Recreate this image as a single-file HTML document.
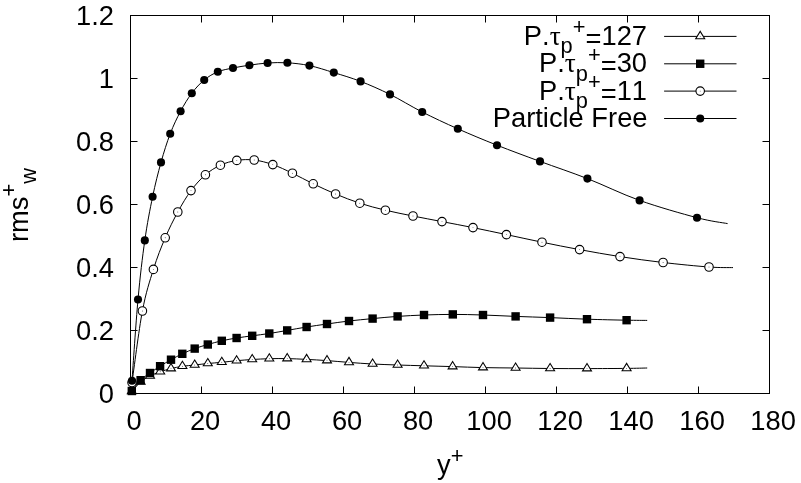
<!DOCTYPE html>
<html lang="en"><head><meta charset="utf-8"><title>rms w+ vs y+</title>
<style>html,body{margin:0;padding:0;background:#fff;}body{width:801px;height:483px;overflow:hidden;}text{font-kerning:none;font-feature-settings:'kern' 0,'liga' 0;}</style>
</head><body>
<svg width="801" height="483" viewBox="0 0 801 483" style="display:block">
<rect x="0" y="0" width="801" height="483" fill="#fff"/>
<g fill="none" stroke="#000" stroke-width="1">
<rect x="130.5" y="15.5" width="639.0" height="378.0"/>
<path d="M201.50,393.50 v-7.0 M201.50,15.50 v7.0 M272.50,393.50 v-7.0 M272.50,15.50 v7.0 M343.50,393.50 v-7.0 M343.50,15.50 v7.0 M414.50,393.50 v-7.0 M414.50,15.50 v7.0 M485.50,393.50 v-7.0 M485.50,15.50 v7.0 M556.50,393.50 v-7.0 M556.50,15.50 v7.0 M627.50,393.50 v-7.0 M627.50,15.50 v7.0 M698.50,393.50 v-7.0 M698.50,15.50 v7.0 M130.50,330.50 h7.0 M769.50,330.50 h-7.0 M130.50,267.50 h7.0 M769.50,267.50 h-7.0 M130.50,204.50 h7.0 M769.50,204.50 h-7.0 M130.50,141.50 h7.0 M769.50,141.50 h-7.0 M130.50,78.50 h7.0 M769.50,78.50 h-7.0 "/>
</g>
<g font-family="'Liberation Sans', Arial, Helvetica, sans-serif" font-size="27.3" fill="#000">
<text class="yt" x="114" y="402.80" text-anchor="end">0</text>
<text class="yt" x="114" y="339.80" text-anchor="end">0.2</text>
<text class="yt" x="114" y="276.80" text-anchor="end">0.4</text>
<text class="yt" x="114" y="213.80" text-anchor="end">0.6</text>
<text class="yt" x="114" y="150.80" text-anchor="end">0.8</text>
<text class="yt" x="114" y="87.80" text-anchor="end">1</text>
<text class="yt" x="114" y="24.80" text-anchor="end">1.2</text>
<text class="xt" x="134.10" y="430.4" text-anchor="middle">0</text>
<text class="xt" x="205.10" y="430.4" text-anchor="middle">20</text>
<text class="xt" x="276.10" y="430.4" text-anchor="middle">40</text>
<text class="xt" x="347.10" y="430.4" text-anchor="middle">60</text>
<text class="xt" x="418.10" y="430.4" text-anchor="middle">80</text>
<text class="xt" x="489.10" y="430.4" text-anchor="middle">100</text>
<text class="xt" x="560.10" y="430.4" text-anchor="middle">120</text>
<text class="xt" x="631.10" y="430.4" text-anchor="middle">140</text>
<text class="xt" x="702.10" y="430.4" text-anchor="middle">160</text>
<text class="xt" x="773.10" y="430.4" text-anchor="middle">180</text>
<text id="xl" x="437" y="474">y<tspan font-size="21.84" dy="-11">+</tspan></text>
<g transform="translate(28,242) rotate(-90)"><text id="yl" x="0" y="0">rms<tspan font-size="21.84" dy="-12">+</tspan><tspan font-size="21.84" dy="19.9">w</tspan></text></g>
<text class="lg" id="lg1" x="647" y="45.10" text-anchor="end">P.<tspan font-family="'Liberation Serif', 'DejaVu Serif', serif">τ</tspan><tspan font-size="21.84" dy="8.3">p</tspan><tspan font-size="21.84" dy="-19.2">+</tspan><tspan dy="13.6">=</tspan><tspan dy="-2.7">127</tspan></text>
<text class="lg" id="lg2" x="647" y="72.45" text-anchor="end">P.<tspan font-family="'Liberation Serif', 'DejaVu Serif', serif">τ</tspan><tspan font-size="21.84" dy="8.3">p</tspan><tspan font-size="21.84" dy="-19.2">+</tspan><tspan dy="13.6">=</tspan><tspan dy="-2.7">30</tspan></text>
<text class="lg" id="lg3" x="647" y="99.80" text-anchor="end">P.<tspan font-family="'Liberation Serif', 'DejaVu Serif', serif">τ</tspan><tspan font-size="21.84" dy="8.3">p</tspan><tspan font-size="21.84" dy="-19.2">+</tspan><tspan dy="13.6">=</tspan><tspan dy="-2.7">11</tspan></text>
<text class="lg" id="lg4" x="647.5" y="127.15" text-anchor="end">Particle Free</text>
</g>
<g><path d="M131.80,391.50 C133.27,389.92 137.57,384.58 140.60,382.00 C143.63,379.42 146.73,377.70 150.00,376.00 C153.27,374.30 156.70,373.03 160.20,371.80 C163.70,370.57 167.30,369.52 171.00,368.60 C174.70,367.68 178.45,366.90 182.40,366.30 C186.35,365.70 190.47,365.47 194.70,365.00 C198.93,364.53 203.28,363.95 207.80,363.50 C212.32,363.05 217.00,362.77 221.80,362.30 C226.60,361.83 231.53,361.17 236.60,360.70 C241.67,360.23 246.75,359.83 252.20,359.50 C257.65,359.17 263.47,358.85 269.30,358.70 C275.13,358.55 280.98,358.48 287.20,358.60 C293.42,358.72 299.97,359.07 306.60,359.40 C313.23,359.73 319.93,360.10 327.00,360.60 C334.07,361.10 341.40,361.83 349.00,362.40 C356.60,362.97 364.50,363.57 372.60,364.00 C380.70,364.43 389.03,364.70 397.60,365.00 C406.17,365.30 414.83,365.53 424.00,365.80 C433.17,366.07 442.77,366.30 452.60,366.60 C462.43,366.90 472.50,367.37 483.00,367.60 C493.50,367.83 504.42,367.85 515.60,368.00 C526.78,368.15 538.20,368.40 550.10,368.50 C562.00,368.60 574.25,368.62 587.00,368.60 C599.75,368.58 616.57,368.50 626.60,368.40 C636.63,368.30 643.77,368.07 647.20,368.00" fill="none" stroke="#000" stroke-width="1"/><path d="M664.1,36.4 H736.5" fill="none" stroke="#000" stroke-width="1"/><path d="M131.80,386.46 L127.30,393.75 L136.30,393.75 Z" fill="#fff" stroke="#000" stroke-width="1.05"/><circle cx="131.80" cy="391.50" r="0.45" fill="#000"/><path d="M140.60,376.96 L136.10,384.25 L145.10,384.25 Z" fill="#fff" stroke="#000" stroke-width="1.05"/><circle cx="140.60" cy="382.00" r="0.45" fill="#000"/><path d="M150.00,370.96 L145.50,378.25 L154.50,378.25 Z" fill="#fff" stroke="#000" stroke-width="1.05"/><circle cx="150.00" cy="376.00" r="0.45" fill="#000"/><path d="M160.20,366.76 L155.70,374.05 L164.70,374.05 Z" fill="#fff" stroke="#000" stroke-width="1.05"/><circle cx="160.20" cy="371.80" r="0.45" fill="#000"/><path d="M171.00,363.56 L166.50,370.85 L175.50,370.85 Z" fill="#fff" stroke="#000" stroke-width="1.05"/><circle cx="171.00" cy="368.60" r="0.45" fill="#000"/><path d="M182.40,361.26 L177.90,368.55 L186.90,368.55 Z" fill="#fff" stroke="#000" stroke-width="1.05"/><circle cx="182.40" cy="366.30" r="0.45" fill="#000"/><path d="M194.70,359.96 L190.20,367.25 L199.20,367.25 Z" fill="#fff" stroke="#000" stroke-width="1.05"/><circle cx="194.70" cy="365.00" r="0.45" fill="#000"/><path d="M207.80,358.46 L203.30,365.75 L212.30,365.75 Z" fill="#fff" stroke="#000" stroke-width="1.05"/><circle cx="207.80" cy="363.50" r="0.45" fill="#000"/><path d="M221.80,357.26 L217.30,364.55 L226.30,364.55 Z" fill="#fff" stroke="#000" stroke-width="1.05"/><circle cx="221.80" cy="362.30" r="0.45" fill="#000"/><path d="M236.60,355.66 L232.10,362.95 L241.10,362.95 Z" fill="#fff" stroke="#000" stroke-width="1.05"/><circle cx="236.60" cy="360.70" r="0.45" fill="#000"/><path d="M252.20,354.46 L247.70,361.75 L256.70,361.75 Z" fill="#fff" stroke="#000" stroke-width="1.05"/><circle cx="252.20" cy="359.50" r="0.45" fill="#000"/><path d="M269.30,353.66 L264.80,360.95 L273.80,360.95 Z" fill="#fff" stroke="#000" stroke-width="1.05"/><circle cx="269.30" cy="358.70" r="0.45" fill="#000"/><path d="M287.20,353.56 L282.70,360.85 L291.70,360.85 Z" fill="#fff" stroke="#000" stroke-width="1.05"/><circle cx="287.20" cy="358.60" r="0.45" fill="#000"/><path d="M306.60,354.36 L302.10,361.65 L311.10,361.65 Z" fill="#fff" stroke="#000" stroke-width="1.05"/><circle cx="306.60" cy="359.40" r="0.45" fill="#000"/><path d="M327.00,355.56 L322.50,362.85 L331.50,362.85 Z" fill="#fff" stroke="#000" stroke-width="1.05"/><circle cx="327.00" cy="360.60" r="0.45" fill="#000"/><path d="M349.00,357.36 L344.50,364.65 L353.50,364.65 Z" fill="#fff" stroke="#000" stroke-width="1.05"/><circle cx="349.00" cy="362.40" r="0.45" fill="#000"/><path d="M372.60,358.96 L368.10,366.25 L377.10,366.25 Z" fill="#fff" stroke="#000" stroke-width="1.05"/><circle cx="372.60" cy="364.00" r="0.45" fill="#000"/><path d="M397.60,359.96 L393.10,367.25 L402.10,367.25 Z" fill="#fff" stroke="#000" stroke-width="1.05"/><circle cx="397.60" cy="365.00" r="0.45" fill="#000"/><path d="M424.00,360.76 L419.50,368.05 L428.50,368.05 Z" fill="#fff" stroke="#000" stroke-width="1.05"/><circle cx="424.00" cy="365.80" r="0.45" fill="#000"/><path d="M452.60,361.56 L448.10,368.85 L457.10,368.85 Z" fill="#fff" stroke="#000" stroke-width="1.05"/><circle cx="452.60" cy="366.60" r="0.45" fill="#000"/><path d="M483.00,362.56 L478.50,369.85 L487.50,369.85 Z" fill="#fff" stroke="#000" stroke-width="1.05"/><circle cx="483.00" cy="367.60" r="0.45" fill="#000"/><path d="M515.60,362.96 L511.10,370.25 L520.10,370.25 Z" fill="#fff" stroke="#000" stroke-width="1.05"/><circle cx="515.60" cy="368.00" r="0.45" fill="#000"/><path d="M550.10,363.46 L545.60,370.75 L554.60,370.75 Z" fill="#fff" stroke="#000" stroke-width="1.05"/><circle cx="550.10" cy="368.50" r="0.45" fill="#000"/><path d="M587.00,363.56 L582.50,370.85 L591.50,370.85 Z" fill="#fff" stroke="#000" stroke-width="1.05"/><circle cx="587.00" cy="368.60" r="0.45" fill="#000"/><path d="M626.60,363.36 L622.10,370.65 L631.10,370.65 Z" fill="#fff" stroke="#000" stroke-width="1.05"/><circle cx="626.60" cy="368.40" r="0.45" fill="#000"/><path d="M700.20,31.36 L695.70,38.65 L704.70,38.65 Z" fill="#fff" stroke="#000" stroke-width="1.05"/><circle cx="700.20" cy="36.40" r="0.45" fill="#000"/></g>
<g><path d="M131.80,391.00 C133.27,389.20 137.57,383.20 140.60,380.20 C143.63,377.20 146.75,375.33 150.00,373.00 C153.25,370.67 156.60,368.42 160.10,366.20 C163.60,363.98 167.30,361.77 171.00,359.70 C174.70,357.63 178.35,355.65 182.30,353.80 C186.25,351.95 190.45,350.15 194.70,348.60 C198.95,347.05 203.28,345.80 207.80,344.50 C212.32,343.20 217.00,341.88 221.80,340.80 C226.60,339.72 231.53,338.83 236.60,338.00 C241.67,337.17 246.75,336.55 252.20,335.80 C257.65,335.05 263.47,334.40 269.30,333.50 C275.13,332.60 280.98,331.48 287.20,330.40 C293.42,329.32 299.97,328.07 306.60,327.00 C313.23,325.93 319.93,325.00 327.00,324.00 C334.07,323.00 341.40,321.90 349.00,321.00 C356.60,320.10 364.50,319.37 372.60,318.60 C380.70,317.83 389.03,317.00 397.60,316.40 C406.17,315.80 414.80,315.33 424.00,315.00 C433.20,314.67 442.97,314.40 452.80,314.40 C462.63,314.40 472.53,314.67 483.00,315.00 C493.47,315.33 504.42,315.97 515.60,316.40 C526.78,316.83 538.20,317.13 550.10,317.60 C562.00,318.07 574.25,318.77 587.00,319.20 C599.75,319.63 616.57,320.00 626.60,320.20 C636.63,320.40 643.77,320.37 647.20,320.40" fill="none" stroke="#000" stroke-width="1"/><path d="M664.1,63.8 H736.5" fill="none" stroke="#000" stroke-width="1"/><rect x="127.60" y="386.80" width="8.40" height="8.40" fill="#000"/><rect x="136.40" y="376.00" width="8.40" height="8.40" fill="#000"/><rect x="145.80" y="368.80" width="8.40" height="8.40" fill="#000"/><rect x="155.90" y="362.00" width="8.40" height="8.40" fill="#000"/><rect x="166.80" y="355.50" width="8.40" height="8.40" fill="#000"/><rect x="178.10" y="349.60" width="8.40" height="8.40" fill="#000"/><rect x="190.50" y="344.40" width="8.40" height="8.40" fill="#000"/><rect x="203.60" y="340.30" width="8.40" height="8.40" fill="#000"/><rect x="217.60" y="336.60" width="8.40" height="8.40" fill="#000"/><rect x="232.40" y="333.80" width="8.40" height="8.40" fill="#000"/><rect x="248.00" y="331.60" width="8.40" height="8.40" fill="#000"/><rect x="265.10" y="329.30" width="8.40" height="8.40" fill="#000"/><rect x="283.00" y="326.20" width="8.40" height="8.40" fill="#000"/><rect x="302.40" y="322.80" width="8.40" height="8.40" fill="#000"/><rect x="322.80" y="319.80" width="8.40" height="8.40" fill="#000"/><rect x="344.80" y="316.80" width="8.40" height="8.40" fill="#000"/><rect x="368.40" y="314.40" width="8.40" height="8.40" fill="#000"/><rect x="393.40" y="312.20" width="8.40" height="8.40" fill="#000"/><rect x="419.80" y="310.80" width="8.40" height="8.40" fill="#000"/><rect x="448.60" y="310.20" width="8.40" height="8.40" fill="#000"/><rect x="478.80" y="310.80" width="8.40" height="8.40" fill="#000"/><rect x="511.40" y="312.20" width="8.40" height="8.40" fill="#000"/><rect x="545.90" y="313.40" width="8.40" height="8.40" fill="#000"/><rect x="582.80" y="315.00" width="8.40" height="8.40" fill="#000"/><rect x="622.40" y="316.00" width="8.40" height="8.40" fill="#000"/><rect x="696.00" y="59.55" width="8.40" height="8.40" fill="#000"/></g>
<g><path d="M132.00,382.60 C133.73,370.67 138.83,329.87 142.40,311.00 C145.97,292.13 149.60,281.60 153.40,269.40 C157.20,257.20 161.13,247.37 165.20,237.80 C169.27,228.23 173.50,219.87 177.80,212.00 C182.10,204.13 186.40,196.80 191.00,190.60 C195.60,184.40 200.50,179.03 205.40,174.80 C210.30,170.57 215.17,167.60 220.40,165.20 C225.63,162.80 231.17,161.27 236.80,160.40 C242.43,159.53 248.20,159.30 254.20,160.00 C260.20,160.70 266.43,162.40 272.80,164.60 C279.17,166.80 285.67,170.00 292.40,173.20 C299.13,176.40 306.00,180.33 313.20,183.80 C320.40,187.27 327.83,190.77 335.60,194.00 C343.37,197.23 351.50,200.50 359.80,203.20 C368.10,205.90 376.53,208.07 385.40,210.20 C394.27,212.33 403.57,214.10 413.00,216.00 C422.43,217.90 432.00,219.67 442.00,221.60 C452.00,223.53 462.27,225.43 473.00,227.60 C483.73,229.77 494.90,232.17 506.40,234.60 C517.90,237.03 529.80,239.70 542.00,242.20 C554.20,244.70 566.60,247.20 579.60,249.60 C592.60,252.00 606.08,254.45 620.00,256.60 C633.92,258.75 648.27,260.77 663.10,262.50 C677.93,264.23 697.35,266.15 709.00,267.00 C720.65,267.85 729.00,267.50 733.00,267.60" fill="none" stroke="#000" stroke-width="1"/><path d="M664.1,91.1 H736.5" fill="none" stroke="#000" stroke-width="1"/><circle cx="132.00" cy="382.60" r="4.25" fill="#fff" stroke="#000" stroke-width="1.1"/><circle cx="132.00" cy="382.60" r="0.45" fill="#000"/><circle cx="142.40" cy="311.00" r="4.25" fill="#fff" stroke="#000" stroke-width="1.1"/><circle cx="142.40" cy="311.00" r="0.45" fill="#000"/><circle cx="153.40" cy="269.40" r="4.25" fill="#fff" stroke="#000" stroke-width="1.1"/><circle cx="153.40" cy="269.40" r="0.45" fill="#000"/><circle cx="165.20" cy="237.80" r="4.25" fill="#fff" stroke="#000" stroke-width="1.1"/><circle cx="165.20" cy="237.80" r="0.45" fill="#000"/><circle cx="177.80" cy="212.00" r="4.25" fill="#fff" stroke="#000" stroke-width="1.1"/><circle cx="177.80" cy="212.00" r="0.45" fill="#000"/><circle cx="191.00" cy="190.60" r="4.25" fill="#fff" stroke="#000" stroke-width="1.1"/><circle cx="191.00" cy="190.60" r="0.45" fill="#000"/><circle cx="205.40" cy="174.80" r="4.25" fill="#fff" stroke="#000" stroke-width="1.1"/><circle cx="205.40" cy="174.80" r="0.45" fill="#000"/><circle cx="220.40" cy="165.20" r="4.25" fill="#fff" stroke="#000" stroke-width="1.1"/><circle cx="220.40" cy="165.20" r="0.45" fill="#000"/><circle cx="236.80" cy="160.40" r="4.25" fill="#fff" stroke="#000" stroke-width="1.1"/><circle cx="236.80" cy="160.40" r="0.45" fill="#000"/><circle cx="254.20" cy="160.00" r="4.25" fill="#fff" stroke="#000" stroke-width="1.1"/><circle cx="254.20" cy="160.00" r="0.45" fill="#000"/><circle cx="272.80" cy="164.60" r="4.25" fill="#fff" stroke="#000" stroke-width="1.1"/><circle cx="272.80" cy="164.60" r="0.45" fill="#000"/><circle cx="292.40" cy="173.20" r="4.25" fill="#fff" stroke="#000" stroke-width="1.1"/><circle cx="292.40" cy="173.20" r="0.45" fill="#000"/><circle cx="313.20" cy="183.80" r="4.25" fill="#fff" stroke="#000" stroke-width="1.1"/><circle cx="313.20" cy="183.80" r="0.45" fill="#000"/><circle cx="335.60" cy="194.00" r="4.25" fill="#fff" stroke="#000" stroke-width="1.1"/><circle cx="335.60" cy="194.00" r="0.45" fill="#000"/><circle cx="359.80" cy="203.20" r="4.25" fill="#fff" stroke="#000" stroke-width="1.1"/><circle cx="359.80" cy="203.20" r="0.45" fill="#000"/><circle cx="385.40" cy="210.20" r="4.25" fill="#fff" stroke="#000" stroke-width="1.1"/><circle cx="385.40" cy="210.20" r="0.45" fill="#000"/><circle cx="413.00" cy="216.00" r="4.25" fill="#fff" stroke="#000" stroke-width="1.1"/><circle cx="413.00" cy="216.00" r="0.45" fill="#000"/><circle cx="442.00" cy="221.60" r="4.25" fill="#fff" stroke="#000" stroke-width="1.1"/><circle cx="442.00" cy="221.60" r="0.45" fill="#000"/><circle cx="473.00" cy="227.60" r="4.25" fill="#fff" stroke="#000" stroke-width="1.1"/><circle cx="473.00" cy="227.60" r="0.45" fill="#000"/><circle cx="506.40" cy="234.60" r="4.25" fill="#fff" stroke="#000" stroke-width="1.1"/><circle cx="506.40" cy="234.60" r="0.45" fill="#000"/><circle cx="542.00" cy="242.20" r="4.25" fill="#fff" stroke="#000" stroke-width="1.1"/><circle cx="542.00" cy="242.20" r="0.45" fill="#000"/><circle cx="579.60" cy="249.60" r="4.25" fill="#fff" stroke="#000" stroke-width="1.1"/><circle cx="579.60" cy="249.60" r="0.45" fill="#000"/><circle cx="620.00" cy="256.60" r="4.25" fill="#fff" stroke="#000" stroke-width="1.1"/><circle cx="620.00" cy="256.60" r="0.45" fill="#000"/><circle cx="663.10" cy="262.50" r="4.25" fill="#fff" stroke="#000" stroke-width="1.1"/><circle cx="663.10" cy="262.50" r="0.45" fill="#000"/><circle cx="709.00" cy="267.00" r="4.25" fill="#fff" stroke="#000" stroke-width="1.1"/><circle cx="709.00" cy="267.00" r="0.45" fill="#000"/><circle cx="700.20" cy="91.10" r="4.25" fill="#fff" stroke="#000" stroke-width="1.1"/><circle cx="700.20" cy="91.10" r="0.45" fill="#000"/></g>
<g><path d="M132.00,380.70 C133.00,367.17 135.87,322.88 138.00,299.50 C140.13,276.12 142.37,257.52 144.80,240.40 C147.23,223.28 149.90,209.80 152.60,196.80 C155.30,183.80 158.07,172.90 161.00,162.40 C163.93,151.90 166.93,142.33 170.20,133.80 C173.47,125.27 177.00,117.97 180.60,111.20 C184.20,104.43 187.87,98.40 191.80,93.20 C195.73,88.00 199.87,83.57 204.20,80.00 C208.53,76.43 213.00,73.80 217.80,71.80 C222.60,69.80 227.73,69.10 233.00,68.00 C238.27,66.90 243.63,66.03 249.40,65.20 C255.17,64.37 261.27,63.40 267.60,63.00 C273.93,62.60 280.43,62.37 287.40,62.80 C294.37,63.23 301.67,63.97 309.40,65.60 C317.13,67.23 325.27,69.97 333.80,72.60 C342.33,75.23 351.23,77.77 360.60,81.40 C369.97,85.03 379.73,89.30 390.00,94.40 C400.27,99.50 410.90,106.27 422.20,112.00 C433.50,117.73 445.33,123.27 457.80,128.80 C470.27,134.33 483.30,139.77 497.00,145.20 C510.70,150.63 524.93,155.83 540.00,161.40 C555.07,166.97 570.80,172.10 587.40,178.60 C604.00,185.10 621.33,193.88 639.60,200.40 C657.87,206.92 682.33,213.83 697.00,217.70 C711.67,221.57 722.50,222.62 727.60,223.60" fill="none" stroke="#000" stroke-width="1"/><path d="M664.1,118.5 H736.5" fill="none" stroke="#000" stroke-width="1"/><circle cx="132.00" cy="380.70" r="4.05" fill="#000"/><circle cx="138.00" cy="299.50" r="4.05" fill="#000"/><circle cx="144.80" cy="240.40" r="4.05" fill="#000"/><circle cx="152.60" cy="196.80" r="4.05" fill="#000"/><circle cx="161.00" cy="162.40" r="4.05" fill="#000"/><circle cx="170.20" cy="133.80" r="4.05" fill="#000"/><circle cx="180.60" cy="111.20" r="4.05" fill="#000"/><circle cx="191.80" cy="93.20" r="4.05" fill="#000"/><circle cx="204.20" cy="80.00" r="4.05" fill="#000"/><circle cx="217.80" cy="71.80" r="4.05" fill="#000"/><circle cx="233.00" cy="68.00" r="4.05" fill="#000"/><circle cx="249.40" cy="65.20" r="4.05" fill="#000"/><circle cx="267.60" cy="63.00" r="4.05" fill="#000"/><circle cx="287.40" cy="62.80" r="4.05" fill="#000"/><circle cx="309.40" cy="65.60" r="4.05" fill="#000"/><circle cx="333.80" cy="72.60" r="4.05" fill="#000"/><circle cx="360.60" cy="81.40" r="4.05" fill="#000"/><circle cx="390.00" cy="94.40" r="4.05" fill="#000"/><circle cx="422.20" cy="112.00" r="4.05" fill="#000"/><circle cx="457.80" cy="128.80" r="4.05" fill="#000"/><circle cx="497.00" cy="145.20" r="4.05" fill="#000"/><circle cx="540.00" cy="161.40" r="4.05" fill="#000"/><circle cx="587.40" cy="178.60" r="4.05" fill="#000"/><circle cx="639.60" cy="200.40" r="4.05" fill="#000"/><circle cx="697.00" cy="217.70" r="4.05" fill="#000"/><circle cx="700.20" cy="118.45" r="4.05" fill="#000"/></g>
</svg>
</body></html>
